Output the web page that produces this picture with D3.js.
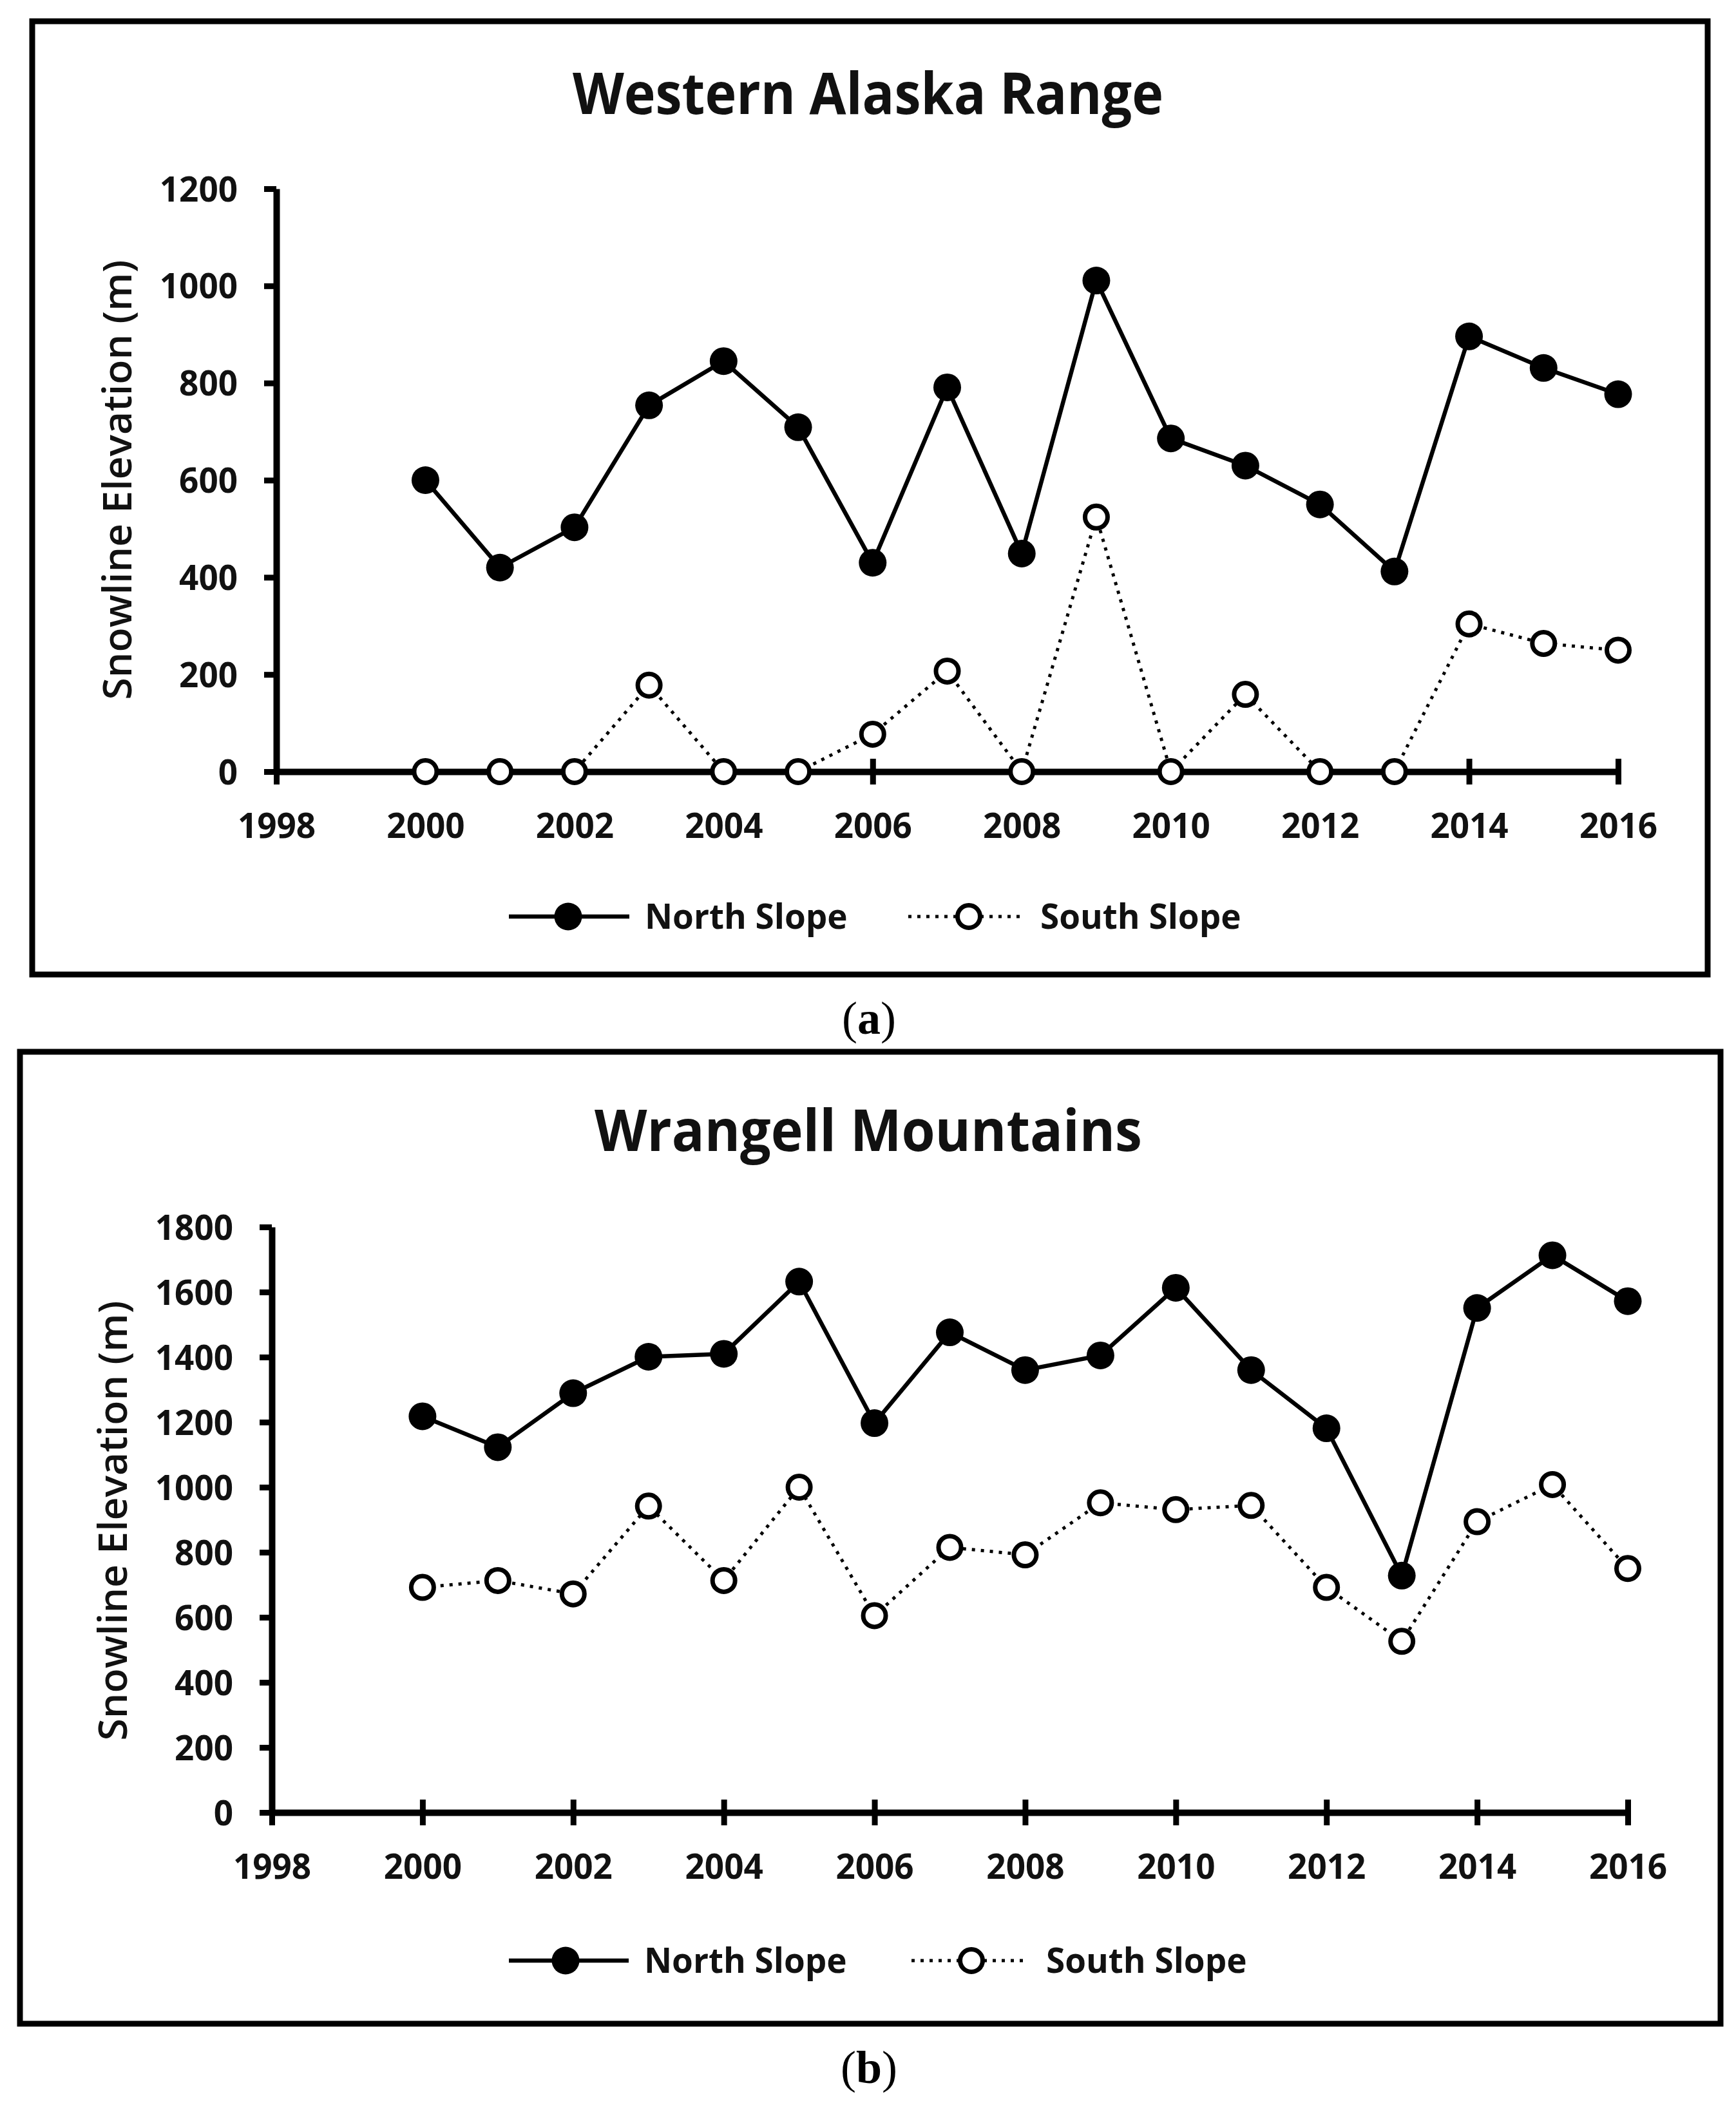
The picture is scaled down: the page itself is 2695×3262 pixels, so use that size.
<!DOCTYPE html>
<html>
<head>
<meta charset="utf-8">
<script src="https://cdn.jsdelivr.net/npm/d3@7"></script>
<style>
  html, body { margin: 0; padding: 0; background: #fff; }
  svg { display: block; }
</style>
</head>
<body>
<div id="chart"></div>
<script>
// ------------------------------
// Data
// ------------------------------

const years = [2000, 2001, 2002, 2003, 2004, 2005, 2006, 2007, 2008, 2009, 2010, 2011, 2012, 2013, 2014, 2015, 2016];
const xTicks = [1998, 2000, 2002, 2004, 2006, 2008, 2010, 2012, 2014, 2016];

const westernNorth = [600, 420, 503, 754, 845, 709, 430, 791, 449, 1011, 686, 630, 550, 412, 896, 831, 777];
const westernSouth = [0, 0, 0, 178, 0, 0, 77, 207, 0, 524, 0, 159, 0, 0, 304, 264, 250];
const westernYTicks = [0, 200, 400, 600, 800, 1000, 1200];

const wrangellNorth = [1218, 1123, 1289, 1401, 1410, 1632, 1197, 1476, 1360, 1405, 1613, 1360, 1181, 728, 1551, 1713, 1572];
const wrangellSouth = [692, 713, 672, 942, 713, 1000, 605, 815, 792, 952, 931, 944, 692, 526, 894, 1008, 750];
const wrangellYTicks = [0, 200, 400, 600, 800, 1000, 1200, 1400, 1600, 1800];

const seriesNames = ["North Slope", "South Slope"];
const yLabel = "Snowline Elevation (m)";

// ------------------------------
// Layout
// ------------------------------

const width = 2695;
const height = 3262;
const sans = "'Open Sans', 'Noto Sans', sans-serif";
const ink = "#111";

const panels = [
  {
    title: "Western Alaska Range", titleLen: 917, titleY: 177,
    caption: "a", captionY: 1605,
    box: { x0: 50, y0: 33, x1: 2651, y1: 1513 },
    xRange: [429, 2512], yRange: [1198, 293], yMax: 1200,
    north: westernNorth, south: westernSouth, yTicks: westernYTicks,
    axisTitle: { x: 182, y: 745 },
    legend: { y: 1423, n: [790, 977, 882, 1001], s: [1410, 1587, 1504, 1615] },
  },
  {
    title: "Wrangell Mountains", titleLen: 850, titleY: 1787,
    caption: "b", captionY: 3234,
    box: { x0: 31, y0: 1633, x1: 2671, y1: 3142 },
    xRange: [422, 2527], yRange: [2814, 1905], yMax: 1800,
    north: wrangellNorth, south: wrangellSouth, yTicks: wrangellYTicks,
    axisTitle: { x: 175, y: 2361 },
    legend: { y: 3044, n: [790, 976, 878, 1000], s: [1415, 1596, 1508, 1624] },
  },
];

const svg = d3.select("#chart").append("svg").attr("width", width).attr("height", height);
svg.append("rect").attr("width", width).attr("height", height).attr("fill", "#fff");

panels.forEach((p) => drawPanel(p));

// ------------------------------
// Helper Functions
// ------------------------------

function drawPanel(p) {
  const g = svg.append("g");

  // Frame around the chart
  g.append("rect")
    .attr("x", p.box.x0)
    .attr("y", p.box.y0)
    .attr("width", p.box.x1 - p.box.x0)
    .attr("height", p.box.y1 - p.box.y0)
    .attr("fill", "none")
    .attr("stroke", "#000")
    .attr("stroke-width", 9);

  // Title
  g.append("text")
    .attr("x", (p.box.x0 + p.box.x1) / 2 - 3)
    .attr("y", p.titleY)
    .attr("text-anchor", "middle")
    .attr("font-family", sans)
    .attr("font-weight", 700)
    .attr("font-size", 89)
    .attr("fill", ink)
    .attr("textLength", p.titleLen)
    .attr("lengthAdjust", "spacingAndGlyphs")
    .text(p.title);

  const x = d3.scaleLinear().domain([1998, 2016]).range(p.xRange);
  const y = d3.scaleLinear().domain([0, p.yMax]).range(p.yRange);
  const x0 = p.xRange[0];
  const y0 = p.yRange[0];

  // Y axis
  const yAxis = g.append("g")
    .attr("transform", `translate(${x0},0)`)
    .call(d3.axisLeft(y).tickValues(p.yTicks).tickFormat(d3.format("d"))
      .tickSize(19).tickSizeOuter(0).tickPadding(41));
  yAxis.select(".domain").attr("stroke", "#000").attr("stroke-width", 10);
  yAxis.selectAll(".tick line").attr("stroke", "#000").attr("stroke-width", 9);
  yAxis.selectAll(".tick text")
    .attr("font-family", sans)
    .attr("font-weight", 700)
    .attr("font-size", 53)
    .attr("fill", ink)
    .attr("dy", "0.36em");

  // X axis (ticks cross the axis line)
  const xAxis = g.append("g")
    .attr("transform", `translate(0,${y0})`)
    .call(d3.axisBottom(x).tickValues(xTicks).tickFormat(d3.format("d")).tickSize(20).tickSizeOuter(0));
  xAxis.select(".domain").attr("stroke", "#000").attr("stroke-width", 10);
  xAxis.selectAll(".tick line").attr("stroke", "#000").attr("stroke-width", 9).attr("y1", -20);
  xAxis.selectAll(".tick text")
    .attr("font-family", sans)
    .attr("font-weight", 700)
    .attr("font-size", 53)
    .attr("fill", ink)
    .attr("y", 103)
    .attr("dy", 0);

  // Y axis title
  g.append("text")
    .attr("transform", `translate(${p.axisTitle.x},${p.axisTitle.y}) rotate(-90)`)
    .attr("text-anchor", "middle")
    .attr("dy", "0.35em")
    .attr("font-family", sans)
    .attr("font-weight", 600)
    .attr("font-size", 62)
    .attr("fill", ink)
    .attr("textLength", 683)
    .attr("lengthAdjust", "spacingAndGlyphs")
    .text(yLabel);

  const line = d3.line().x((d, i) => x(years[i])).y((d) => y(d));

  // South slope: dotted line with open circles
  g.append("path")
    .datum(p.south)
    .attr("d", line)
    .attr("fill", "none")
    .attr("stroke", "#000")
    .attr("stroke-width", 5)
    .attr("stroke-dasharray", "5 9");

  // North slope: solid line with filled circles
  g.append("path")
    .datum(p.north)
    .attr("d", line)
    .attr("fill", "none")
    .attr("stroke", "#000")
    .attr("stroke-width", 6.5);

  g.selectAll(".south-pt")
    .data(p.south)
    .join("circle")
    .attr("class", "south-pt")
    .attr("cx", (d, i) => x(years[i]))
    .attr("cy", (d) => y(d))
    .attr("r", 17.5)
    .attr("fill", "#fff")
    .attr("stroke", "#000")
    .attr("stroke-width", 7);

  g.selectAll(".north-pt")
    .data(p.north)
    .join("circle")
    .attr("class", "north-pt")
    .attr("cx", (d, i) => x(years[i]))
    .attr("cy", (d) => y(d))
    .attr("r", 21.5)
    .attr("fill", "#000");

  // Legend
  const ly = p.legend.y;
  const [na, nb, nm, nt] = p.legend.n;
  const [sa, sb, sm, st] = p.legend.s;

  g.append("line").attr("x1", na).attr("x2", nb).attr("y1", ly).attr("y2", ly)
    .attr("stroke", "#000").attr("stroke-width", 6.5);
  g.append("circle").attr("cx", nm).attr("cy", ly).attr("r", 21.5).attr("fill", "#000");

  g.append("line").attr("x1", sa).attr("x2", sb).attr("y1", ly).attr("y2", ly)
    .attr("stroke", "#000").attr("stroke-width", 5).attr("stroke-dasharray", "5 9");
  g.append("circle").attr("cx", sm).attr("cy", ly).attr("r", 17.5)
    .attr("fill", "#fff").attr("stroke", "#000").attr("stroke-width", 7);

  [[nt, seriesNames[0]], [st, seriesNames[1]]].forEach(([tx, label]) => {
    g.append("text")
      .attr("x", tx)
      .attr("y", ly)
      .attr("dy", "0.36em")
      .attr("font-family", sans)
      .attr("font-weight", 700)
      .attr("font-size", 53)
      .attr("fill", ink)
      .text(label);
  });

  // Caption below the frame
  const cap = g.append("text")
    .attr("x", 1349)
    .attr("y", p.captionY)
    .attr("text-anchor", "middle")
    .attr("font-family", "'Liberation Serif', 'Times New Roman', serif")
    .attr("font-size", 72)
    .attr("fill", "#000");
  cap.append("tspan").text("(");
  cap.append("tspan").attr("font-weight", 700).text(p.caption);
  cap.append("tspan").text(")");
}
</script>
</body>
</html>
